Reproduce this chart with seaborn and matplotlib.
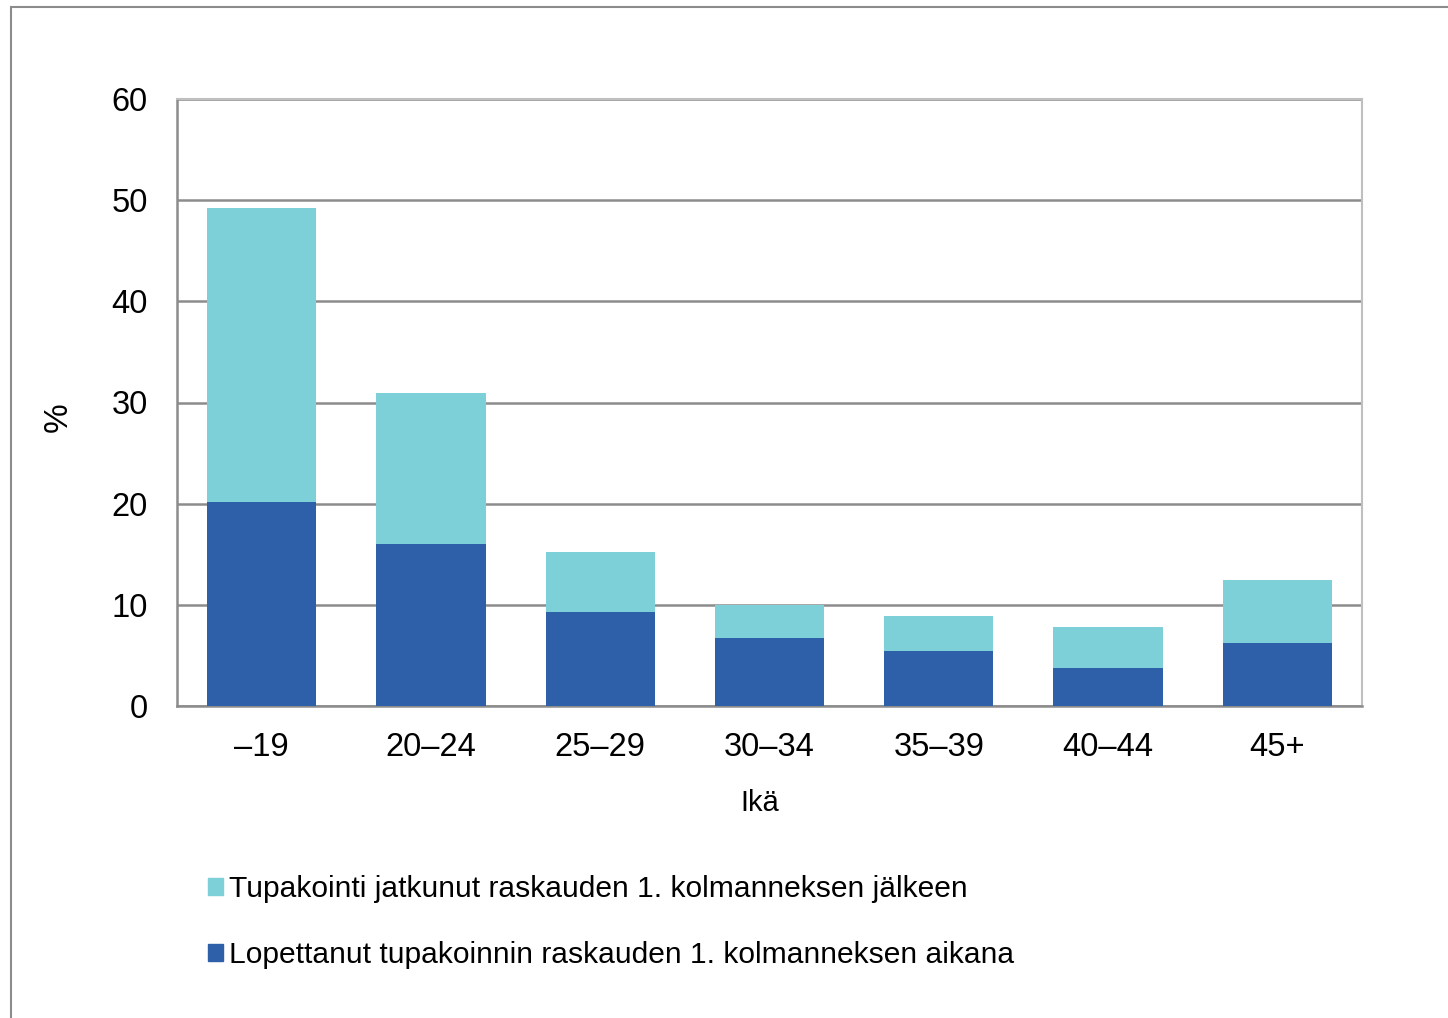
import matplotlib.pyplot as plt
import matplotlib.patches as mpatches
import pandas as pd
import seaborn as sns

# Data
ages = ['–19', '20–24', '25–29', '30–34', '35–39', '40–44', '45+']
stopped = [20.2, 16.0, 9.3, 6.7, 5.4, 3.75, 6.2]
continued = [29.0, 14.9, 5.9, 3.3, 3.5, 4.05, 6.25]

label_cont = 'Tupakointi jatkunut raskauden 1. kolmanneksen jälkeen'
label_stop = 'Lopettanut tupakoinnin raskauden 1. kolmanneksen aikana'

col_cont = '#7DD0D7'
col_stop = '#2E60AA'

df = pd.DataFrame({'age': ages, 'stopped': stopped, 'continued': continued})
df['total'] = df['stopped'] + df['continued']

sns.set_style('white')
plt.rcParams['font.family'] = ['Liberation Sans', 'DejaVu Sans']
plt.rcParams['text.color'] = 'black'
plt.rcParams['axes.labelcolor'] = 'black'

fig = plt.figure(figsize=(14.48, 10.18), dpi=100)
ax = fig.add_axes([177 / 1448, 1 - 706 / 1018, 1185 / 1448, 607 / 1018])

# stacked: draw totals first, then the bottom segment over them
sns.barplot(data=df, x='age', y='total', color=col_cont, width=0.645,
            saturation=1, linewidth=0, ax=ax, zorder=3)
sns.barplot(data=df, x='age', y='stopped', color=col_stop, width=0.645,
            saturation=1, linewidth=0, ax=ax, zorder=3)

ax.set_xlim(-0.5, 6.5)
ax.set_ylim(0, 60)
ax.set_yticks(range(0, 61, 10))
ax.yaxis.grid(True, color='#8C8C8C', linewidth=1.8, zorder=0)
ax.set_axisbelow(True)
for side in ['top', 'right']:
    ax.spines[side].set_color('#BFBFBF')
    ax.spines[side].set_linewidth(1.5)
for side in ['left', 'bottom']:
    ax.spines[side].set_color('#8C8C8C')
    ax.spines[side].set_linewidth(1.8)
ax.tick_params(axis='both', length=0, labelsize=23.5, colors='black')
ax.tick_params(axis='x', pad=19)
ax.tick_params(axis='y', pad=21)
ax.set_xlabel('Ikä', fontsize=21)
ax.set_ylabel('%', fontsize=24)
ax.xaxis.set_label_coords((760 - 177) / 1185, (706 - 789) / 607)
ax.yaxis.set_label_coords((74 - 177) / 1185, (706 - 417) / 607)

handles = [mpatches.Patch(color=col_cont, label=label_cont),
           mpatches.Patch(color=col_stop, label=label_stop)]
fig.legend(handles=handles, loc='upper left',
           bbox_to_anchor=(208 / 1448, 1 - 875 / 1018),
           frameon=False, fontsize=21.6, handlelength=0.5, handleheight=0.5,
           handletextpad=0.2, labelspacing=1.27, borderpad=0, borderaxespad=0)

# outer chart frame
frame = mpatches.Rectangle((11 / 1448, -0.05), 1.1, 1 - 7 / 1018 + 0.05,
                           transform=fig.transFigure, fill=False,
                           edgecolor='#8C8C8C', linewidth=1.5)
fig.patches.append(frame)

fig.savefig('out.png', dpi=100)
